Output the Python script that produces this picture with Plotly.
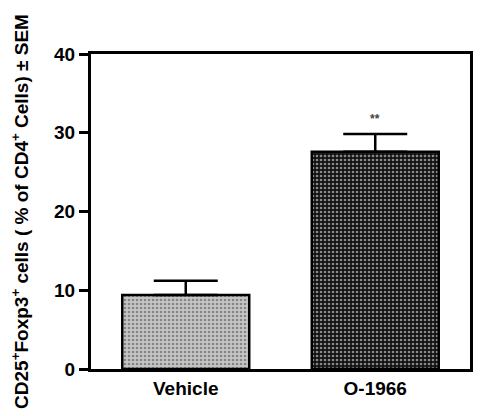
import plotly.graph_objects as go

groups = ["Vehicle", "O-1966"]
means = [9.4, 27.6]
sems = [1.8, 2.25]
marks = ["", "**"]

BLACK = "#000000"
FONT = "Liberation Sans, Arial, sans-serif"

fig = go.Figure()

fig.add_trace(
    go.Bar(
        x=groups,
        y=means,
        marker={
            "color": ["#c6c6c6", "#121212"],
            "line": {"color": BLACK, "width": 2.5},
            "pattern": {
                "shape": ".",
                "size": 4,
                "solidity": 0.35,
                "fgcolor": ["#7e7e7e", "#626262"],
                "fillmode": "overlay",
            },
        },
        error_y={
            "type": "data",
            "array": sems,
            "arrayminus": [0, 0],
            "symmetric": False,
            "color": BLACK,
            "thickness": 2.5,
            "width": 32,
        },
        showlegend=False,
        hoverinfo="skip",
    )
)

# significance stars above the error bars
for g, m, s, txt in zip(groups, means, sems, marks):
    if txt:
        fig.add_annotation(
            x=g,
            y=m + s,
            text=txt,
            showarrow=False,
            yanchor="bottom",
            yshift=6,
            font={"family": FONT, "size": 12, "color": "#444444", "weight": "bold"},
        )

axis_common = {
    "showline": True,
    "linecolor": BLACK,
    "linewidth": 3,
    "mirror": True,
    "showgrid": False,
    "zeroline": False,
}

# page body adds an 8px offset, so the figure is a bit smaller than the window
fig.update_layout(
    width=476,
    height=408,
    margin={"l": 78, "r": 11, "t": 46, "b": 47},
    paper_bgcolor="white",
    plot_bgcolor="white",
    bargap=0.33,
    font={"family": FONT, "color": BLACK, "weight": "bold"},
    xaxis={
        **axis_common,
        "ticks": "",
        "tickfont": {"size": 19, "family": FONT, "weight": "bold"},
    },
    yaxis={
        **axis_common,
        "range": [0, 40],
        "dtick": 10,
        "ticks": "outside",
        "ticklen": 9,
        "tickwidth": 2.5,
        "tickcolor": BLACK,
        "tickfont": {"size": 19, "family": FONT, "weight": "bold"},
        "title": {
            "text": "CD25<sup>+</sup>Foxp3<sup>+</sup> cells ( % of CD4<sup>+</sup> Cells) ± SEM",
            "font": {"size": 19, "family": FONT, "weight": "bold"},
            "standoff": 22,
        },
    },
)

fig.write_html("out.html")
